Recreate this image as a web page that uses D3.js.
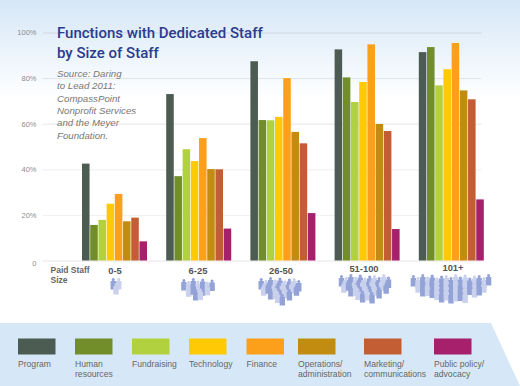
<!DOCTYPE html>
<html lang="en">
<head>
<meta charset="UTF-8">
<title>Functions with Dedicated Staff by Size of Staff</title>
<style>
    html, body { margin: 0; padding: 0; background: #fff; overflow: hidden; }
    svg { display: block; font-family: "Liberation Sans", sans-serif; }
    .tick text { font-size: 7.5px; fill: #8d8d8d; }
    .domain { display: none; }
</style>
</head>
<body>
<div id="chart"></div>
<script src="https://d3js.org/d3.v7.min.js"></script>
<script>
var staffSizes = ["0-5", "6-25", "26-50", "51-100", "101+"];
var functionNames = ["Program", "Human resources", "Fundraising", "Technology", "Finance", "Operations/ administration", "Marketing/ communications", "Public policy/ advocacy"];
var functionColors = ["#4c5c52", "#718e2b", "#b2d13f", "#ffc905", "#fca01c", "#c18c10", "#c35e34", "#a6206c"];

var program     = [42.5, 73, 87.4, 92.6, 91.4];
var humanRes    = [15.6, 37, 61.6, 80.3, 93.6];
var fundraising = [17.8, 48.8, 61.5, 69.5, 76.8];
var technology  = [24.9, 43.6, 63, 78.3, 83.9];
var finance     = [29.2, 53.7, 80, 94.8, 95.4];
var operations  = [17.2, 40.1, 56.4, 59.9, 74.6];
var marketing   = [18.8, 40, 51.4, 56.8, 70.7];
var publicPol   = [8.4, 14, 20.8, 13.8, 26.8];
var allSeries = [program, humanRes, fundraising, technology, finance, operations, marketing, publicPol];

var yTicks = [0, 20, 40, 60, 80, 100];
var gridColors = ["#e6e6e6", "#f0f0f0", "#eeeeee", "#e6e6e6", "#dfe3e8", "#ced7e3"];

// people per row in the little crowds under each group
var crowdRows = [[2, 1], [7, 5, 2], [9, 8, 5, 2], [11, 10, 7, 4], [17, 15, 13, 7]];
var crowdJitter = [0, 2, -1, 1.5, -0.5, 2.5, 0.5];

var title = ["Functions with Dedicated Staff", "by Size of Staff"];
var source = ["Source: Daring", "to Lead 2011:", "CompassPoint", "Nonprofit Services", "and the Meyer", "Foundation."];

var width = 520, height = 386;

var svg = d3.select("#chart").append("svg")
    .attr("width", width)
    .attr("height", height);

var grad = svg.append("defs").append("linearGradient")
    .attr("id", "sky")
    .attr("x1", 0).attr("y1", 0).attr("x2", 0).attr("y2", 1);
grad.append("stop").attr("offset", "0%").attr("stop-color", "#d5e7f6");
grad.append("stop").attr("offset", "100%").attr("stop-color", "#ffffff");

svg.append("rect")
    .attr("width", width)
    .attr("height", 98)
    .attr("fill", "url(#sky)");

// bottom legend band
svg.append("path")
    .attr("d", "M0,323H491L520,386H0Z")
    .attr("fill", "#d6e8f7");

// Scales
var y = d3.scaleLinear().domain([0, 100]).range([260.5, 32.5]);

var x0 = d3.scaleBand()
    .domain(staffSizes)
    .range([82, 82 + 84.2 * staffSizes.length]);

var x1 = d3.scaleBand()
    .domain(d3.range(functionNames.length))
    .range([0, 65])
    .paddingInner(0.08);

// Axis
var yAxis = d3.axisLeft(y)
    .tickValues(yTicks)
    .tickSize(-437)
    .tickPadding(8)
    .tickFormat(function(d) { return d === 0 ? "0" : d + "%"; });

var gAxis = svg.append("g")
    .attr("transform", "translate(44.5,0)")
    .call(yAxis);

gAxis.selectAll(".tick line")
    .attr("x1", -2)
    .attr("x2", 437)
    .attr("stroke", function(d, i) { return gridColors[i]; });
gAxis.selectAll(".tick text").attr("x", -8).attr("dy", "0.32em");
gAxis.selectAll(".tick").filter(function(d) { return d === 0; }).select("text").attr("dy", "0.7em");

// Title and source
svg.append("g").selectAll("text")
    .data(title)
    .enter().append("text")
    .attr("x", 57)
    .attr("y", function(d, i) { return 38 + i * 20; })
    .attr("fill", "#2c3b8f")
    .style("font-family", "Roboto, sans-serif")
    .style("font-weight", "500")
    .style("font-size", "15px")
    .text(function(d) { return d; });

svg.append("g").selectAll("text")
    .data(source)
    .enter().append("text")
    .attr("x", 57)
    .attr("y", function(d, i) { return 77 + i * 12.3; })
    .attr("fill", "#777")
    .style("font-size", "9.7px")
    .style("font-style", "italic")
    .text(function(d) { return d; });

// Bars
var groups = svg.selectAll(".group")
    .data(staffSizes)
    .enter().append("g")
    .attr("class", "group")
    .attr("transform", function(d) { return "translate(" + x0(d) + ",0)"; });

groups.selectAll("rect")
    .data(function(d, g) { return allSeries.map(function(s, i) { return {i: i, value: s[g]}; }); })
    .enter().append("rect")
    .attr("x", function(d) { return x1(d.i); })
    .attr("y", function(d) { return y(d.value); })
    .attr("width", x1.bandwidth())
    .attr("height", function(d) { return y(0) - y(d.value); })
    .attr("fill", function(d) { return functionColors[d.i]; });

// Group labels
var labelX = [115, 198, 281, 364, 453];
var labelY = [274, 274, 274, 272, 271];

svg.append("g").selectAll("text")
    .data(staffSizes)
    .enter().append("text")
    .attr("x", function(d, i) { return labelX[i]; })
    .attr("y", function(d, i) { return labelY[i]; })
    .attr("text-anchor", "middle")
    .attr("fill", "#555")
    .style("font-size", "9.4px")
    .style("font-weight", "bold")
    .text(function(d) { return d; });

svg.append("g").selectAll("text")
    .data(["Paid Staff", "Size"])
    .enter().append("text")
    .attr("x", 50.5)
    .attr("y", function(d, i) { return 273 + i * 10; })
    .attr("fill", "#666")
    .style("font-size", "8.5px")
    .style("font-weight", "bold")
    .text(function(d) { return d; });

// Crowds
var crowdCenter = [116, 198, 280, 365, 451];
var crowdTop = [278, 279, 278, 275, 275];
var personPath = "M-1.6,1.6a1.6,1.6 0 1,1 3.2,0a1.6,1.6 0 1,1 -3.2,0ZM-2.7,3H2.7V11.5H-2.7Z";

crowdRows.forEach(function(rows, g) {
    var gap = g === 0 ? 5.5 : 4.7;
    var crowd = svg.append("g");
    rows.forEach(function(count, r) {
        crowd.selectAll(".row" + r)
            .data(d3.range(count))
            .enter().append("path")
            .attr("d", personPath)
            .attr("fill", function(k) { return (k + r) % 2 ? "#c9d1ec" : "#93a3d8"; })
            .attr("transform", function(k) {
                var px = crowdCenter[g] + (k - (count - 1) / 2) * gap;
                var py = crowdTop[g] + r * (g === 0 ? 5 : 4.8) + (g === 0 ? 0 : crowdJitter[(k + r * 3) % crowdJitter.length]);
                return "translate(" + px + "," + py + ")";
            });
    });
});

// Legend
var legendX = [18, 75, 132, 189, 246.5, 298, 364, 434];
var legendLines = [["Program"], ["Human", "resources"], ["Fundraising"], ["Technology"], ["Finance"], ["Operations/", "administration"], ["Marketing/", "communications"], ["Public policy/", "advocacy"]];

var legend = svg.selectAll(".legend")
    .data(functionNames)
    .enter().append("g")
    .attr("class", "legend")
    .attr("transform", function(d, i) { return "translate(" + legendX[i] + ",338.5)"; });

legend.append("rect")
    .attr("width", 37.5)
    .attr("height", 16)
    .attr("fill", function(d, i) { return functionColors[i]; });

legend.each(function(d, i) {
    d3.select(this).selectAll("text")
        .data(legendLines[i])
        .enter().append("text")
        .attr("x", 0)
        .attr("y", function(t, j) { return 28.5 + j * 10; })
        .attr("fill", "#666")
        .style("font-size", "8.6px")
        .text(function(t) { return t; });
});
</script>
</body>
</html>
